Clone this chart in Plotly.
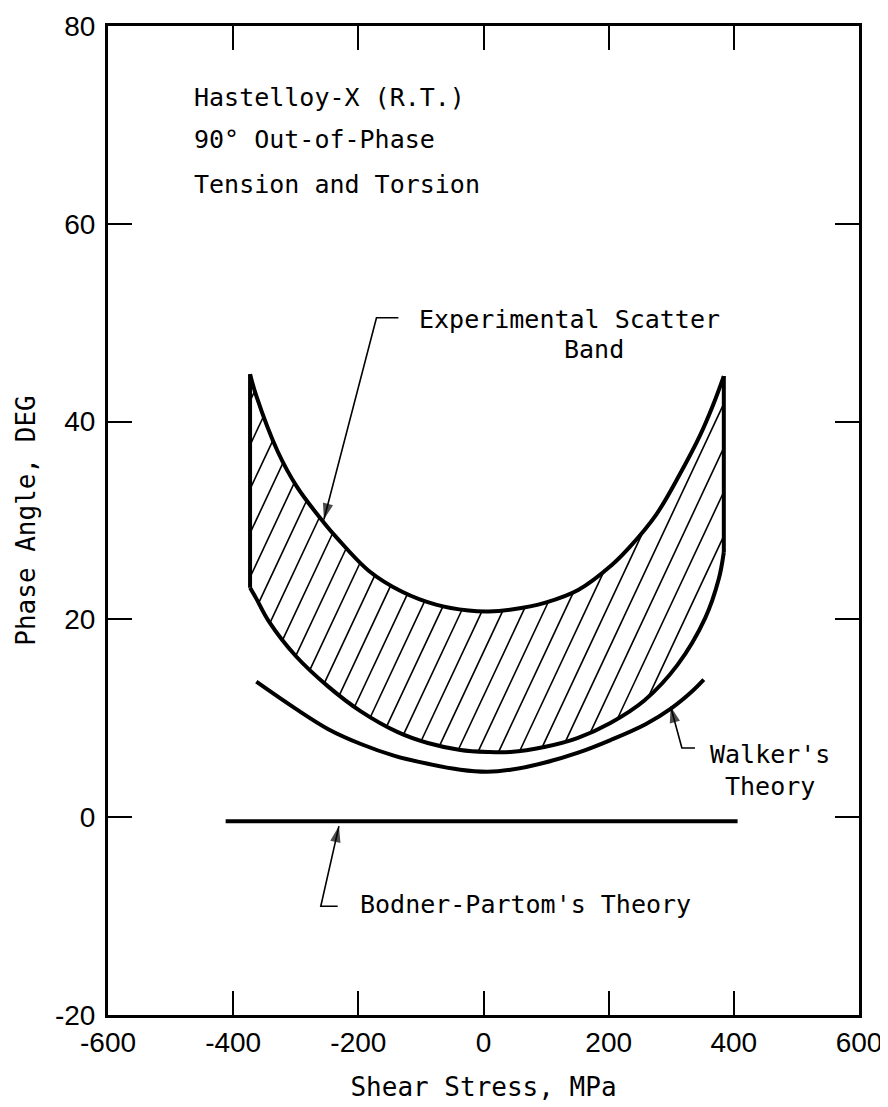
import numpy as np
import plotly.graph_objects as go

# ---------------- data ----------------
upper_x = [-373, -363, -329, -298, -254, -235, -183, -130, -76, -24, 8, 45, 99, 152, 205, 232, 276, 313, 346, 367, 384]
upper_y = [44.8, 42.6, 37.0, 33.4, 29.7, 28.3, 24.9, 22.8, 21.5, 20.9, 20.8, 21.0, 21.7, 23.0, 25.5, 27.2, 30.6, 34.6, 38.6, 41.7, 44.6]

lower_x = [-373, -363, -343, -300, -248, -196, -137, -89, -37, 6, 43, 97, 150, 202, 257, 310, 354, 376, 384]
lower_y = [23.2, 22.1, 19.8, 16.3, 13.2, 10.7, 8.6, 7.5, 6.8, 6.6, 6.6, 7.1, 8.0, 9.5, 11.8, 15.4, 20.1, 24.1, 26.8]

walker_x = [-363, -301, -248, -196, -142, -89, -37, 6, 43, 97, 150, 203, 259, 300, 333, 352]
walker_y = [13.7, 11.0, 8.9, 7.4, 6.2, 5.4, 4.8, 4.6, 4.8, 5.5, 6.5, 7.8, 9.4, 11.0, 12.7, 13.9]

bodner_x = [-412, 406]
bodner_y = [-0.4, -0.4]

x_ticks = [-600, -400, -200, 0, 200, 400, 600]
y_ticks = [-20, 0, 20, 40, 60, 80]

# ---------------- styles ----------------
TXT_FONT = "DejaVu Sans Mono"
TICK_FONT = "Liberation Sans"
HATCH_SLOPE = 0.135   # deg per MPa
HATCH_STEP = 33.0     # MPa
HATCH_ANCHOR = (-300.0, 16.3)

fig = go.Figure()

# ---- hatch lines clipped to the band ----
xs = np.linspace(min(lower_x), max(lower_x), 4000)
yl = np.interp(xs, lower_x, lower_y)
yu = np.interp(xs, upper_x, upper_y)
hx, hy = [], []
for k in range(-40, 41):
    c = HATCH_ANCHOR[0] + k * HATCH_STEP
    yh = HATCH_ANCHOR[1] + HATCH_SLOPE * (xs - c)
    inside = (yh >= yl) & (yh <= yu)
    if not inside.any():
        continue
    idx = np.flatnonzero(inside)
    breaks = np.flatnonzero(np.diff(idx) > 1)
    starts = np.concatenate([[idx[0]], idx[breaks + 1]])
    ends = np.concatenate([idx[breaks], [idx[-1]]])
    for s, e in zip(starts, ends):
        if e - s < 2:
            continue
        hx += [xs[s], xs[e], None]
        hy += [yh[s], yh[e], None]
fig.add_trace(go.Scatter(x=hx, y=hy, mode="lines",
                         line=dict(color="black", width=1.6), hoverinfo="skip"))

# ---- band outline ----
fig.add_trace(go.Scatter(x=upper_x, y=upper_y, mode="lines",
                         line=dict(color="black", width=4, shape="spline", smoothing=1.0)))
fig.add_trace(go.Scatter(x=lower_x, y=lower_y, mode="lines",
                         line=dict(color="black", width=4, shape="spline", smoothing=1.0)))
fig.add_trace(go.Scatter(x=[lower_x[0], upper_x[0], None, lower_x[-1], upper_x[-1]],
                         y=[lower_y[0], upper_y[0], None, lower_y[-1], upper_y[-1]],
                         mode="lines", line=dict(color="black", width=4)))

# ---- theories ----
fig.add_trace(go.Scatter(x=walker_x, y=walker_y, mode="lines",
                         line=dict(color="black", width=4, shape="spline", smoothing=1.0)))
fig.add_trace(go.Scatter(x=bodner_x, y=bodner_y, mode="lines",
                         line=dict(color="black", width=4)))

# ---- leaders (stub -> bend -> arrow tip) ----
leaders = [
    ((-136, 50.5), (-171, 50.5), (-255, 30.1)),
    ((338, 7.0), (317, 7.0), (299, 11.2)),
    ((-233, -9.0), (-260, -9.0), (-231, -0.9)),
]
for stub, bend, tip in leaders:
    fig.add_trace(go.Scatter(
        x=[stub[0], bend[0], tip[0]], y=[stub[1], bend[1], tip[1]],
        mode="lines+markers",
        line=dict(color="black", width=1.6),
        marker=dict(symbol="arrow", size=[0, 0, 17], angleref="previous",
                    color="black", line=dict(width=0)),
        hoverinfo="skip"))

# ---- text ----
def txt(x, y, s, anchor="left"):
    fig.add_annotation(x=x, y=y, xref="x", yref="y", text=s, showarrow=False,
                       xanchor=anchor, yanchor="middle",
                       font=dict(family=TXT_FONT, size=25, color="black"))

txt(-465, 72.8, "Hastelloy-X (R.T.)")
txt(-465, 68.5, "90° Out-of-Phase")
txt(-465, 64.0, "Tension and Torsion")
txt(-107, 50.3, "Experimental Scatter")
txt(125, 47.3, "Band")
txt(458, 6.35, "Walker's", anchor="center")
txt(458, 3.1, "Theory", anchor="center")
txt(-201, -8.8, "Bodner-Partom's Theory")

axis_common = dict(showline=True, linewidth=3, linecolor="black", mirror="ticks",
                   ticks="inside", ticklen=24, tickwidth=2, tickcolor="black",
                   showgrid=False, zeroline=False, automargin=False,
                   ticklabeloverflow="allow",
                   tickfont=dict(family=TICK_FONT, size=28, color="black"))

fig.update_layout(
    width=888, height=1107,
    margin=dict(l=100, r=37, t=18, b=100),
    paper_bgcolor="white", plot_bgcolor="white",
    showlegend=False,
    xaxis=dict(range=[-600, 600], tickvals=x_ticks,
               ticktext=["-600", "-400", "-200", "0", "200", "400", "600"],
               ticklabelstandoff=0,
               title=dict(text="Shear Stress, MPa", standoff=22,
                          font=dict(family=TXT_FONT, size=26, color="black")),
               **axis_common),
    yaxis=dict(range=[-20, 80], tickvals=y_ticks,
               ticktext=["-20", "0", "20", "40", "60", "80"],
               ticklabelstandoff=4,
               title=dict(text="Phase Angle, DEG", standoff=12,
                          font=dict(family=TXT_FONT, size=26, color="black")),
               **axis_common),
)

fig.write_html("out.html")
